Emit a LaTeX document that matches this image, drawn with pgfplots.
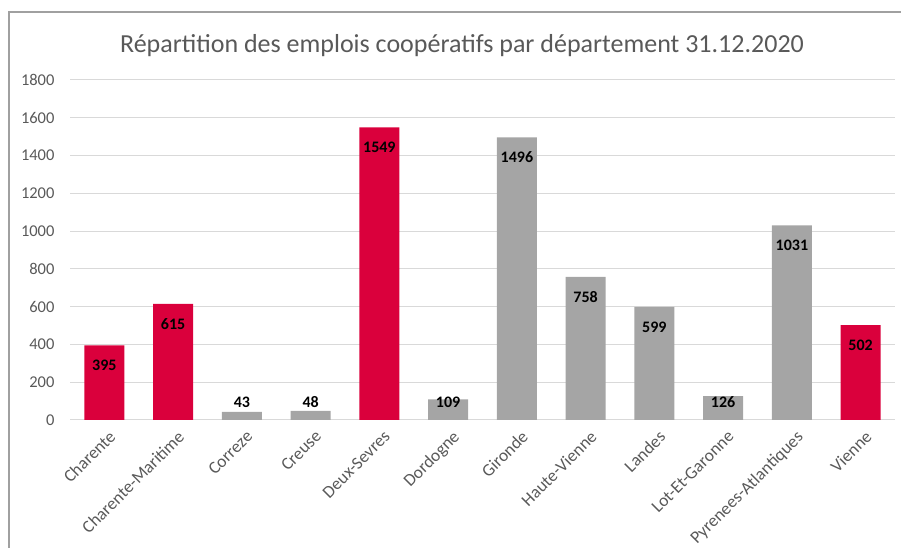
\documentclass[border=0pt]{standalone}
\usepackage{pgfplots}
\pgfplotsset{compat=1.18}
\usepackage{fontspec}
\setmainfont{Carlito}
\definecolor{barred}{RGB}{218,0,60}
\definecolor{bargray}{RGB}{165,165,165}
\definecolor{txtgray}{RGB}{89,89,89}
\definecolor{gridgray}{RGB}{217,217,217}
\definecolor{framegray}{RGB}{160,160,160}
\begin{document}
\begin{tikzpicture}
\useasboundingbox (0pt,0pt) rectangle (901pt,548pt);
\draw[framegray, line width=2pt] (9pt,0pt) -- (9pt,536pt) -- (901pt,536pt);
\node[txtgray, font=\fontsize{26}{30}\selectfont, anchor=base, inner sep=0pt] at (462pt,495pt) {Répartition des emplois coopératifs par département 31.12.2020};
\begin{axis}[
  at={(70pt,128pt)}, anchor=south west,
  scale only axis, width=825pt, height=340pt,
  ymin=0, ymax=1800, ytick={0,200,...,1800},
  xmin=-0.5, xmax=11.5,
  xtick={0,...,11},
  xticklabels={Charente,Charente-Maritime,Correze,Creuse,Deux-Sevres,Dordogne,Gironde,Haute-Vienne,Landes,Lot-Et-Garonne,Pyrenees-Atlantiques,Vienne},
  axis line style={draw=none},
  major tick length=0pt,
  ymajorgrids, grid style={gridgray, line width=1pt},
  tick label style={txtgray, font=\fontsize{16.5}{19}\selectfont},
  /pgf/number format/assume math mode=true,
  /pgf/number format/1000 sep={},
  yticklabel style={xshift=-12pt},
  xticklabel style={rotate=45, anchor=north east, inner sep=2pt, xshift=-2pt, yshift=-7pt, font=\fontsize{17.5}{20}\selectfont},
  ybar, bar width=40pt,
  clip=false,
  lbl/.style={nodes near coords, nodes near coords style={anchor=center, black, font=\fontsize{16}{19}\selectfont\bfseries}},
]
\addplot[bar shift=0pt, fill=barred, draw=none, lbl, nodes near coords style={yshift=-20pt}]
  coordinates {(0,395) (1,615) (4,1549) (11,502)};
\addplot[bar shift=0pt, fill=bargray, draw=none, lbl, nodes near coords style={yshift=-20pt}]
  coordinates {(6,1496) (7,758) (8,599) (10,1031)};
\addplot[bar shift=0pt, fill=bargray, draw=none]
  coordinates {(2,43) (3,48) (5,109) (9,126)};
\addplot[bar shift=0pt, draw=none, fill=none, lbl, point meta=explicit symbolic, nodes near coords style={yshift=18pt}]
  coordinates {(2,0) [43] (3,0) [48] (5,0) [109] (9,0) [126]};
\end{axis}
\end{tikzpicture}
\end{document}
